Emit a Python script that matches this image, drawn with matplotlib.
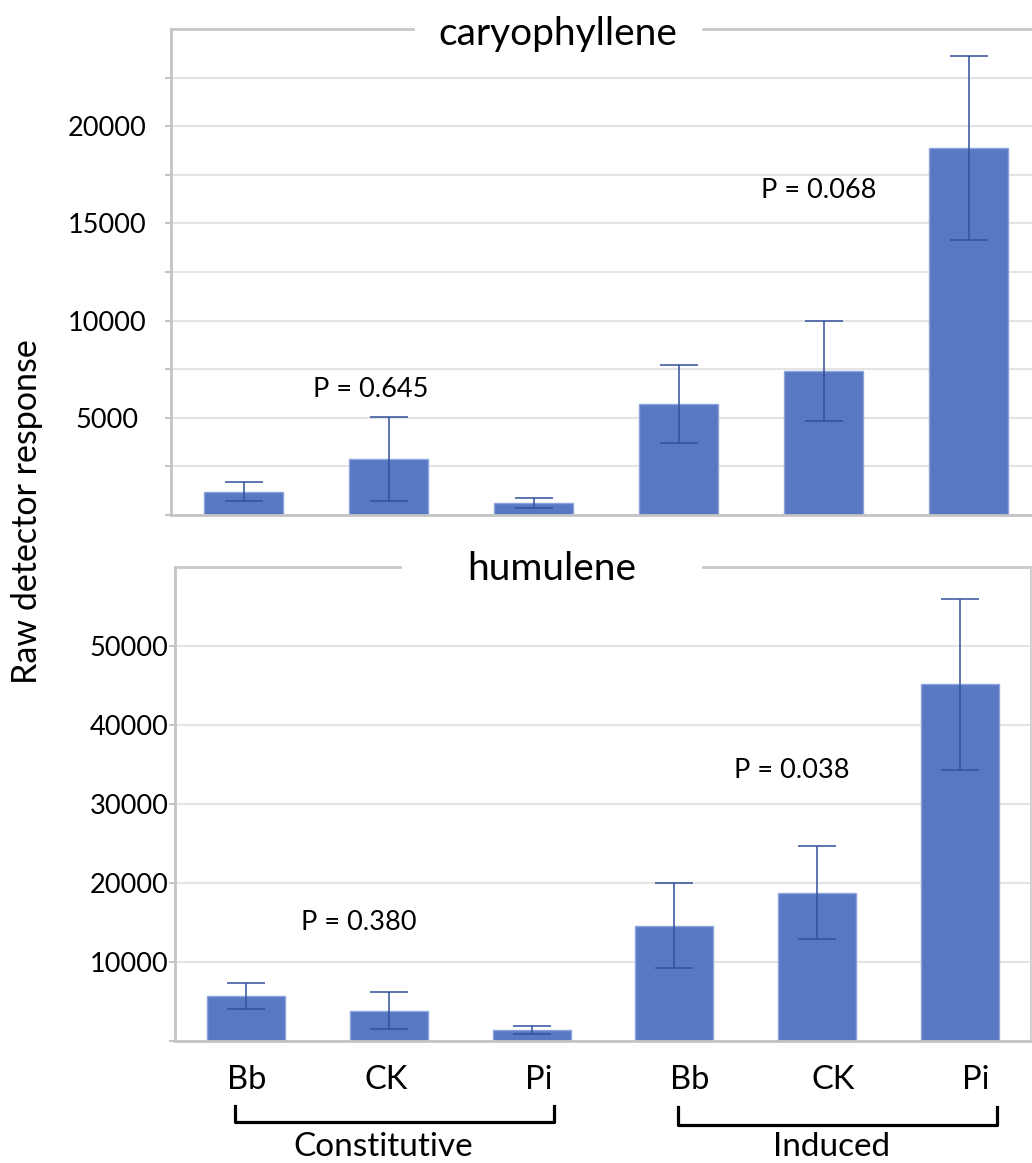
import numpy as np
import matplotlib
matplotlib.use("Agg")
from matplotlib import pyplot as plt

plt.rcParams['font.family'] = ['Lato', 'DejaVu Sans']

groups = ['Bb', 'CK', 'Pi', 'Bb', 'CK', 'Pi']

# caryophyllene: mean and error
cary_mean = [1200, 2870, 620, 5710, 7390, 18900]
cary_err = [480, 2150, 240, 2000, 2580, 4730]
cary_ticks = [0, 2500, 5000, 7500, 10000, 12500, 15000, 17500, 20000, 22500]
cary_labels = ['', '', '5000', '', '10000', '', '15000', '', '20000', '']

# humulene: mean and error
hum_mean = [5680, 3820, 1410, 14590, 18760, 45170]
hum_err = [1630, 2340, 480, 5380, 5890, 10820]
hum_ticks = [0, 10000, 20000, 30000, 40000, 50000]
hum_labels = ['', '10000', '20000', '30000', '40000', '50000']

bar_color = '#5878C4'
err_color = '#33519C'
grid_color = '#E4E4E4'
axis_color = '#C4C4C4'

W, H = 1032, 1163
fig = plt.figure(figsize=(W / 100, H / 100), dpi=100)

def px_axes(left, top, right, bottom):
    return fig.add_axes([left / W, 1 - bottom / H, (right - left) / W, (bottom - top) / H])

ax1 = px_axes(171, 29, 1041, 515)
ax2 = px_axes(175, 567, 1031, 1041)

x = np.arange(len(groups))

def draw_panel(ax, means, errs, ticks, labels, ymax, title, gap, title_y, label_pad):
    ax.bar(x, means, width=0.545, color=bar_color, edgecolor='#8DA3DA', linewidth=1, zorder=2)
    ax.errorbar(x, means, yerr=errs, fmt='none', ecolor=err_color, elinewidth=1.4,
                capsize=13.5, capthick=1.4, alpha=0.8, zorder=3)
    ax.set_xlim(-0.5, 5.5)
    ax.set_ylim(0, ymax)
    ax.set_yticks(ticks)
    ax.set_yticklabels(labels, fontsize=19.5, ha='center')
    ax.set_xticks([])
    ax.tick_params(axis='y', length=4, width=1.5, color=axis_color, pad=label_pad)
    ax.yaxis.grid(True, color=grid_color, linewidth=1.5, zorder=0)
    ax.set_axisbelow(True)
    for side in ['left', 'bottom']:
        ax.spines[side].set_color(axis_color)
        ax.spines[side].set_linewidth(2)
    ax.spines['right'].set_color('#D0D0D0')
    ax.spines['right'].set_linewidth(1.5)
    ax.spines['top'].set_visible(False)
    # top border with a gap for the title
    ax.plot([0, gap[0]], [1, 1], color='#C8C8C8', lw=2, transform=ax.transAxes, clip_on=False)
    ax.plot([gap[1], 1], [1, 1], color='#C8C8C8', lw=2, transform=ax.transAxes, clip_on=False)
    ax.text(sum(gap) / 2, title_y, title, transform=ax.transAxes, ha='center',
            va='baseline', fontsize=28)

draw_panel(ax1, cary_mean, cary_err, cary_ticks, cary_labels, 25000,
           'caryophyllene', (0.278, 0.611), 0.967, 42)
draw_panel(ax2, hum_mean, hum_err, hum_ticks, hum_labels, 60000,
           'humulene', (0.263, 0.617), 0.973, 29)

# P values
ax1.text(0.88, 6470, 'P = 0.645', ha='center', va='center', fontsize=19.5)
ax1.text(3.97, 16700, 'P = 0.068', ha='center', va='center', fontsize=19.5)
ax2.text(0.79, 15000, 'P = 0.380', ha='center', va='center', fontsize=19.5)
ax2.text(3.82, 34300, 'P = 0.038', ha='center', va='center', fontsize=19.5)

# group labels under the bottom panel
label_x = [0.0, 0.98, 2.05, 3.11, 4.11, 5.11]
tr = ax2.get_xaxis_transform()
for lx, g in zip(label_x, groups):
    ax2.text(lx, -0.082, g, transform=tr, ha='center', va='center', fontsize=23.5)

# brackets
ax2.plot([-0.077, -0.077, 2.158, 2.158], [-0.137, -0.171, -0.171, -0.137],
         color='black', lw=2.3, transform=tr, clip_on=False)
ax2.plot([3.025, 3.025, 5.26, 5.26], [-0.139, -0.177, -0.177, -0.139],
         color='black', lw=2.3, transform=tr, clip_on=False)
ax2.text(0.96, -0.224, 'Constitutive', transform=tr, ha='center', va='center', fontsize=24)
ax2.text(4.10, -0.224, 'Induced', transform=tr, ha='center', va='center', fontsize=24)

fig.text(27 / W, 1 - 512 / H, 'Raw detector response', rotation=90,
         ha='center', va='center', fontsize=24.5)

fig.savefig('out.png', dpi=100)
